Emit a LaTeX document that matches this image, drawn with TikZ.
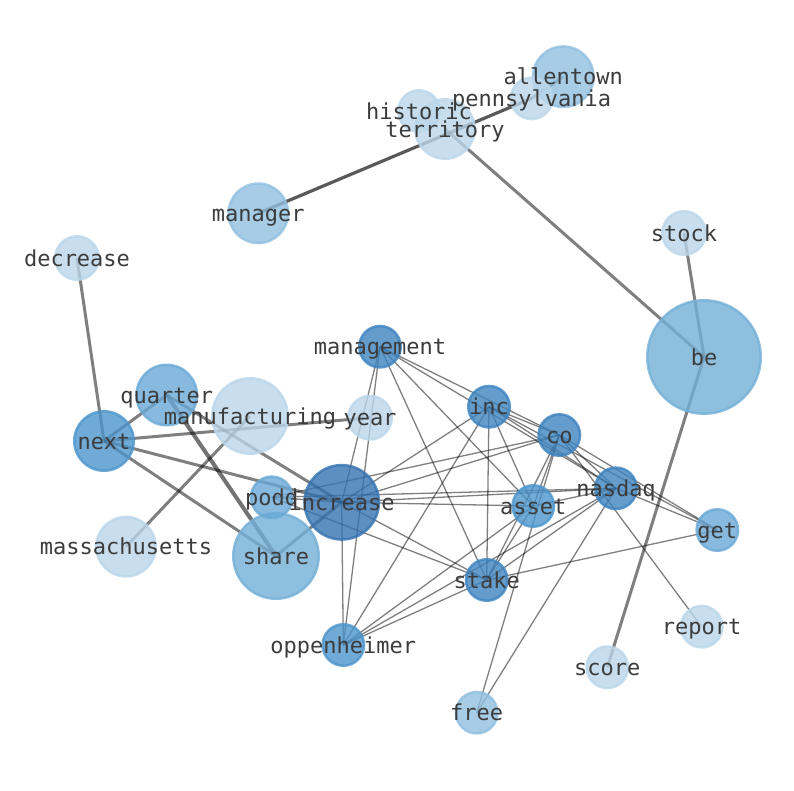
\documentclass[tikz,border=0pt]{standalone}
\usepackage{fontspec}
\newfontfamily\lblfont{DejaVu Sans Mono}
\definecolor{cDarkest}{RGB}{53,115,178}
\definecolor{cDark}{RGB}{61,131,191}
\definecolor{cMidDark}{RGB}{76,149,204}
\definecolor{cMid}{RGB}{105,169,214}
\definecolor{cShare}{RGB}{115,175,214}
\definecolor{cLightMid}{RGB}{144,191,224}
\definecolor{cLight}{RGB}{186,214,234}
\definecolor{lblgray}{RGB}{60,60,60}
\tikzset{
  thinedge/.style={draw=black, draw opacity=0.5, line width=1.3pt},
  thickedge/.style={draw=black, draw opacity=0.5, line width=3pt},
  darkedge/.style={draw=black, draw opacity=0.65, line width=3.2pt},
  bubble/.style={circle, inner sep=0pt, fill=#1, draw=#1, fill opacity=0.8, draw opacity=0.8, line width=2.5pt},
  lbl/.style={inner sep=0pt, text height=18.5pt, text depth=2.3pt, text=lblgray, font=\lblfont\fontsize{22}{22}\selectfont}
}
\begin{document}
\begin{tikzpicture}[x=1pt,y=-1pt]
\useasboundingbox (0,0) rectangle (794,790);
% graph vertices
\coordinate (allentown) at (563.3,76.7);
\coordinate (pennsylvania) at (531.7,98.3);
\coordinate (historic) at (419,111);
\coordinate (territory) at (445,129);
\coordinate (manager) at (258.3,213.3);
\coordinate (decrease) at (77,258);
\coordinate (stock) at (684,233);
\coordinate (be) at (704,357);
\coordinate (management) at (380,346.7);
\coordinate (quarter) at (166.7,395);
\coordinate (manufacturing) at (250,416);
\coordinate (year) at (370,417.7);
\coordinate (next) at (104,441);
\coordinate (inc) at (489,406.7);
\coordinate (co) at (559.3,435);
\coordinate (nasdaq) at (616,488.3);
\coordinate (asset) at (533.3,506);
\coordinate (get) at (717.3,530);
\coordinate (podd) at (271.7,497.3);
\coordinate (increase) at (341.7,502.3);
\coordinate (share) at (276,556);
\coordinate (massachusetts) at (126,546.7);
\coordinate (stake) at (486.7,580);
\coordinate (oppenheimer) at (343.3,645);
\coordinate (report) at (701.7,626.7);
\coordinate (score) at (607.3,667.3);
\coordinate (free) at (476.7,712.7);
% thick edges
\draw[darkedge] (manager) -- (pennsylvania);
\draw[thickedge] (pennsylvania) -- (allentown);
\draw[thickedge] (territory) -- (be);
\draw[thickedge] (stock) -- (be);
\draw[thickedge] (be) -- (score);
\draw[thickedge] (decrease) -- (next);
\draw[thickedge] (next) -- (quarter);
\draw[thickedge] (next) -- (year);
\draw[thickedge] (next) -- (increase);
\draw[thickedge] (next) -- (share);
\draw[thickedge, line width=4pt, draw opacity=0.55] (quarter) -- (share);
\draw[thickedge] (quarter) -- (increase);
\draw[thickedge] (massachusetts) -- (manufacturing);
\draw[thickedge] (share) -- (increase);
% thin edges
\draw[thinedge] (podd) -- (increase);
\draw[thinedge] (management) -- (increase);
\draw[thinedge] (management) -- (oppenheimer);
\draw[thinedge] (management) -- (stake);
\draw[thinedge] (management) -- (asset);
\draw[thinedge] (management) -- (co);
\draw[thinedge] (management) -- (nasdaq);
\draw[thinedge] (inc) -- (increase);
\draw[thinedge] (inc) -- (oppenheimer);
\draw[thinedge] (inc) -- (stake);
\draw[thinedge] (inc) -- (asset);
\draw[thinedge] (inc) -- (co);
\draw[thinedge] (inc) -- (nasdaq);
\draw[thinedge] (inc) -- (get);
\draw[thinedge] (co) -- (increase);
\draw[thinedge] (co) -- (podd);
\draw[thinedge] (co) -- (asset);
\draw[thinedge] (co) -- (stake);
\draw[thinedge] (co) -- (nasdaq);
\draw[thinedge] (co) -- (get);
\draw[thinedge] (co) -- (report);
\draw[thinedge] (co) -- (free);
\draw[thinedge] (nasdaq) -- (increase);
\draw[thinedge] (nasdaq) -- (podd);
\draw[thinedge] (nasdaq) -- (asset);
\draw[thinedge] (nasdaq) -- (stake);
\draw[thinedge] (nasdaq) -- (free);
\draw[thinedge] (nasdaq) -- (oppenheimer);
\draw[thinedge] (nasdaq) -- (get);
\draw[thinedge] (asset) -- (increase);
\draw[thinedge] (asset) -- (stake);
\draw[thinedge] (asset) -- (oppenheimer);
\draw[thinedge] (increase) -- (stake);
\draw[thinedge] (increase) -- (oppenheimer);
\draw[thinedge] (stake) -- (get);
\draw[thinedge] (stake) -- (podd);
\draw[thinedge] (stake) -- (oppenheimer);
% bubbles
\node[bubble=cLightMid, minimum size=60.5pt] (b-allentown) at (allentown) {};
\node[bubble=cLight, minimum size=41.5pt] (b-pennsylvania) at (pennsylvania) {};
\node[bubble=cLight, minimum size=41.5pt] (b-historic) at (historic) {};
\node[bubble=cLight, minimum size=59.5pt] (b-territory) at (territory) {};
\node[bubble=cLightMid, minimum size=59.5pt] (b-manager) at (manager) {};
\node[bubble=cLight, minimum size=43.5pt] (b-decrease) at (decrease) {};
\node[bubble=cLight, minimum size=43.5pt] (b-stock) at (stock) {};
\node[bubble=cShare, minimum size=113.5pt] (b-be) at (be) {};
\node[bubble=cDark, minimum size=41.5pt] (b-management) at (management) {};
\node[bubble=cMid, minimum size=60.5pt] (b-quarter) at (quarter) {};
\node[bubble=cLight, minimum size=75.5pt] (b-manufacturing) at (manufacturing) {};
\node[bubble=cLight, minimum size=43.5pt] (b-year) at (year) {};
\node[bubble=cMidDark, minimum size=59.5pt] (b-next) at (next) {};
\node[bubble=cDark, minimum size=41.5pt] (b-inc) at (inc) {};
\node[bubble=cDark, minimum size=41.5pt] (b-co) at (co) {};
\node[bubble=cDark, minimum size=41.5pt] (b-nasdaq) at (nasdaq) {};
\node[bubble=cMidDark, minimum size=41.5pt] (b-asset) at (asset) {};
\node[bubble=cMid, minimum size=41.5pt] (b-get) at (get) {};
\node[bubble=cShare, minimum size=85.5pt] (b-share) at (share) {};
\node[bubble=cMid, minimum size=41.5pt] (b-podd) at (podd) {};
\node[bubble=cDarkest, minimum size=74.5pt] (b-increase) at (increase) {};
\node[bubble=cLight, minimum size=59.5pt] (b-massachusetts) at (massachusetts) {};
\node[bubble=cDark, minimum size=41.5pt] (b-stake) at (stake) {};
\node[bubble=cMidDark, minimum size=41.5pt] (b-oppenheimer) at (oppenheimer) {};
\node[bubble=cLight, minimum size=41.5pt] (b-report) at (report) {};
\node[bubble=cLight, minimum size=41.5pt] (b-score) at (score) {};
\node[bubble=cLightMid, minimum size=41.5pt] (b-free) at (free) {};
% labels
\node[lbl] (l-allentown) at (allentown) {allentown};
\node[lbl] (l-pennsylvania) at (pennsylvania) {pennsylvania};
\node[lbl] (l-historic) at (historic) {historic};
\node[lbl] (l-territory) at (territory) {territory};
\node[lbl] (l-manager) at (manager) {manager};
\node[lbl] (l-decrease) at (decrease) {decrease};
\node[lbl] (l-stock) at (stock) {stock};
\node[lbl] (l-be) at (be) {be};
\node[lbl] (l-management) at (management) {management};
\node[lbl] (l-quarter) at (quarter) {quarter};
\node[lbl] (l-manufacturing) at (manufacturing) {manufacturing};
\node[lbl] (l-year) at (year) {year};
\node[lbl] (l-next) at (next) {next};
\node[lbl] (l-inc) at (inc) {inc};
\node[lbl] (l-co) at (co) {co};
\node[lbl] (l-nasdaq) at (nasdaq) {nasdaq};
\node[lbl] (l-asset) at (asset) {asset};
\node[lbl] (l-get) at (get) {get};
\node[lbl] (l-podd) at (podd) {podd};
\node[lbl] (l-increase) at (increase) {increase};
\node[lbl] (l-share) at (share) {share};
\node[lbl] (l-massachusetts) at (massachusetts) {massachusetts};
\node[lbl] (l-stake) at (stake) {stake};
\node[lbl] (l-oppenheimer) at (oppenheimer) {oppenheimer};
\node[lbl] (l-report) at (report) {report};
\node[lbl] (l-score) at (score) {score};
\node[lbl] (l-free) at (free) {free};
\end{tikzpicture}
\end{document}
